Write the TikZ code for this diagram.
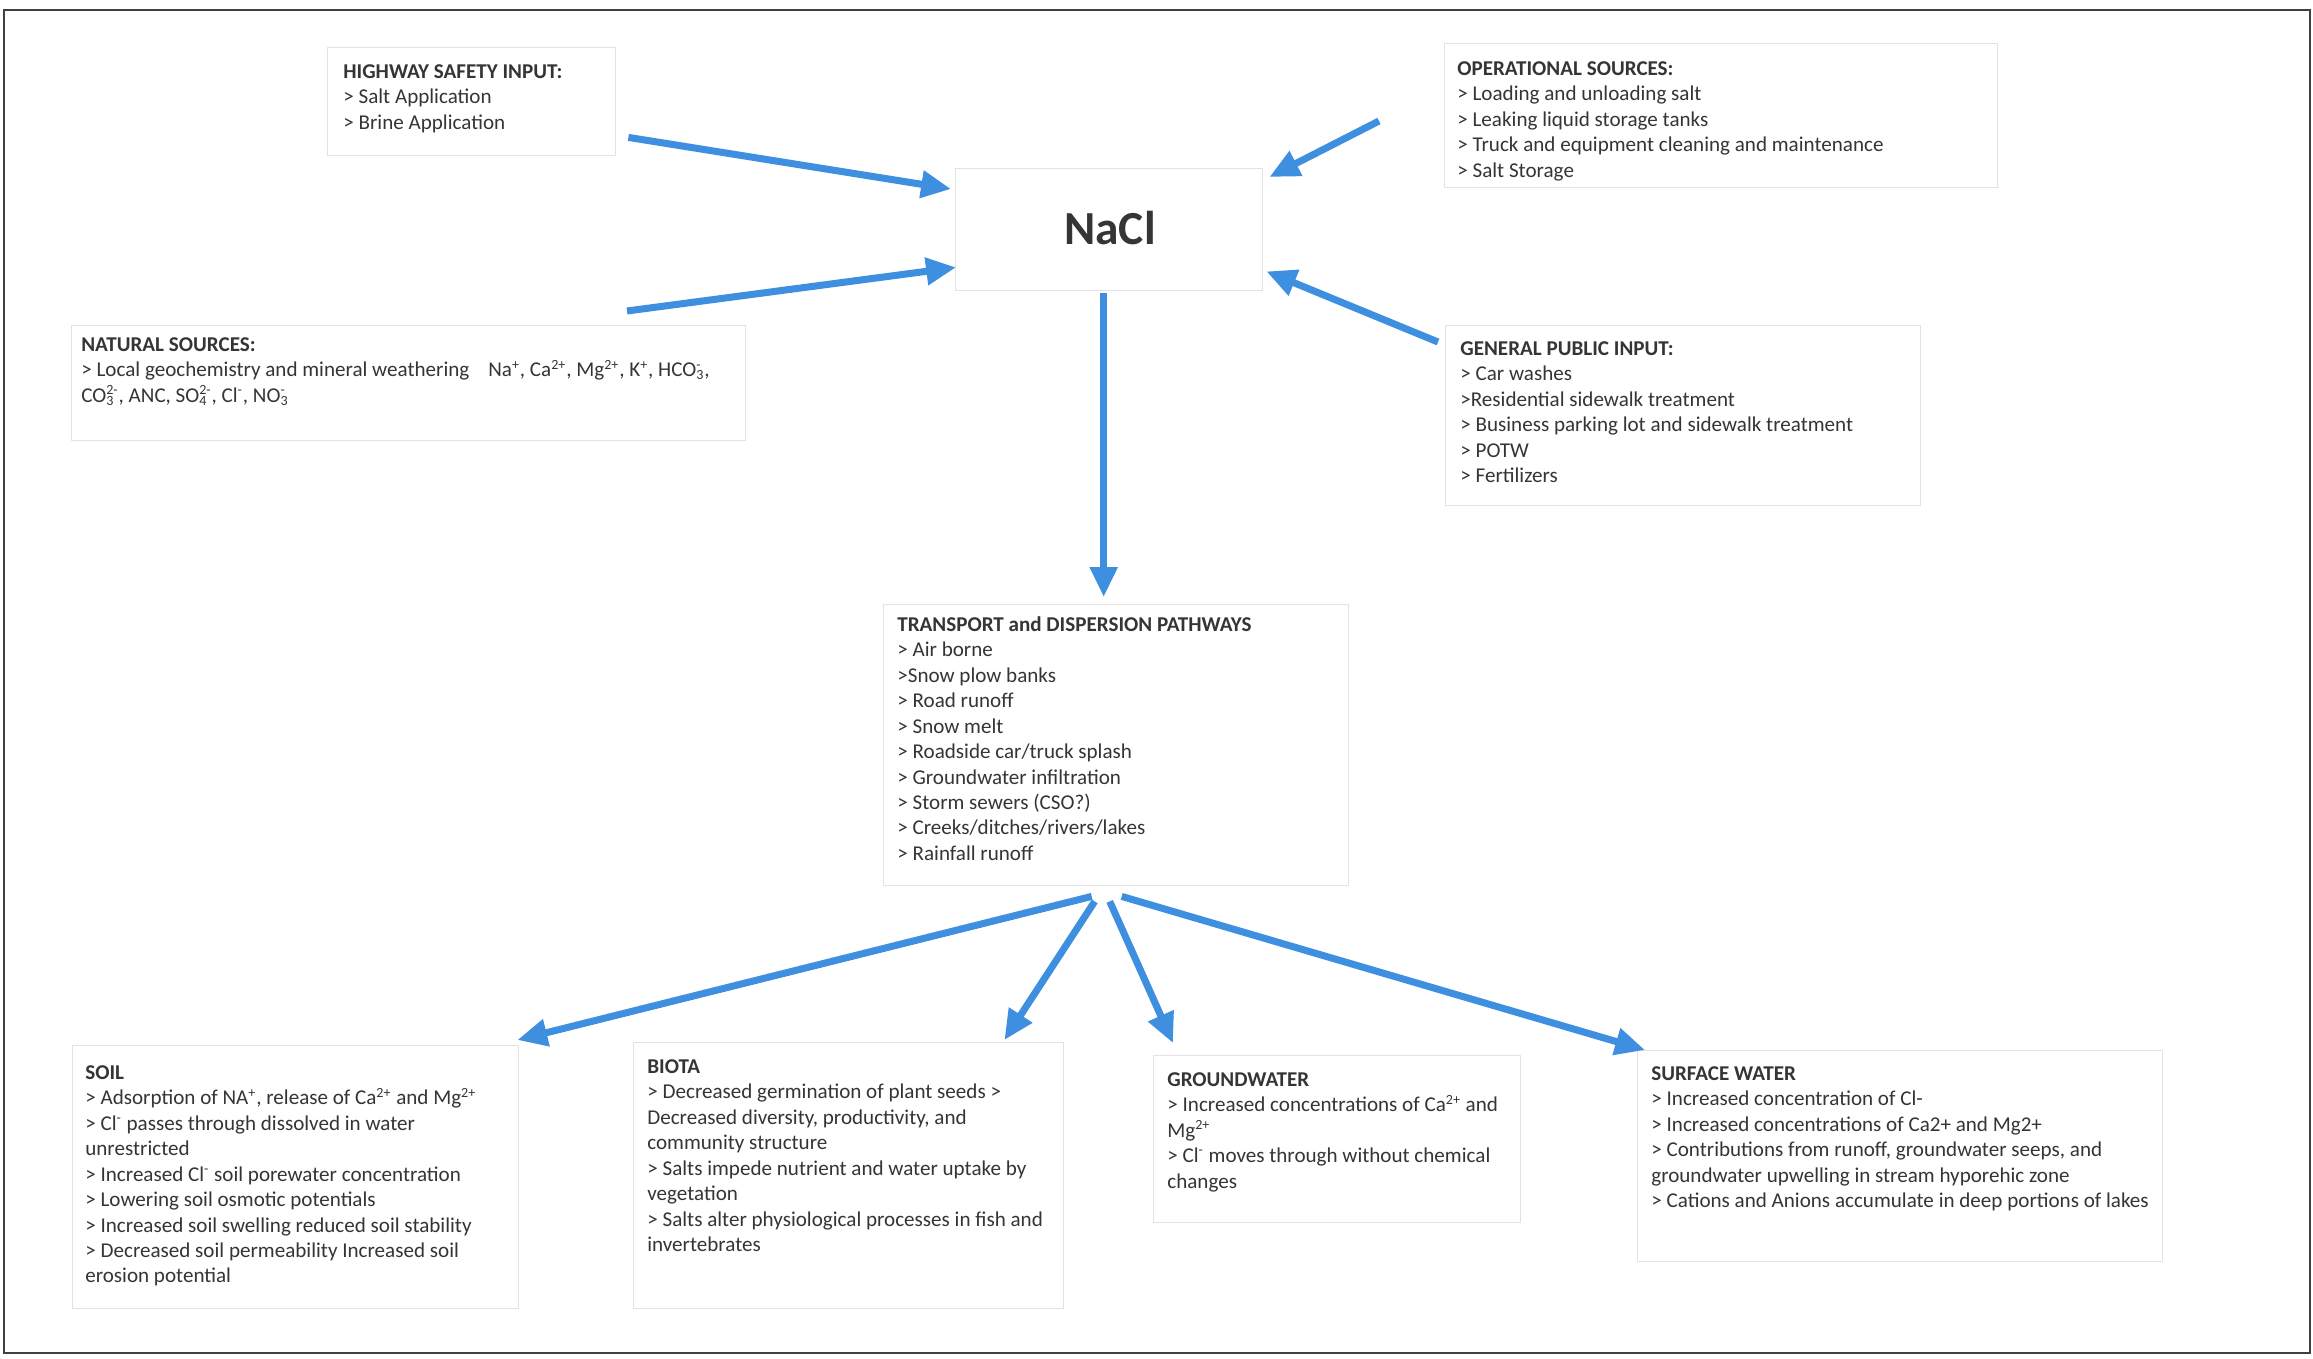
\documentclass[tikz,border=0pt]{standalone}
\usepackage{fontspec}
\setmainfont{Carlito}
\usetikzlibrary{arrows.meta,calc}
\definecolor{arrowblue}{HTML}{3F8FE0}
\definecolor{txt}{HTML}{353535}
\definecolor{boxline}{HTML}{E2E2E2}
\newsavebox\ionboxA
\newsavebox\ionboxB
\newcommand{\sups}[1]{\textsuperscript{#1}}
\newcommand{\ionsub}[2]{\sbox\ionboxA{\textsubscript{#1}}\sbox\ionboxB{\textsuperscript{#2}}%
  \ifdim\wd\ionboxA>\wd\ionboxB\rlap{\usebox\ionboxB}\usebox\ionboxA\else\rlap{\usebox\ionboxA}\usebox\ionboxB\fi}
\begin{document}
\begin{tikzpicture}[x=0.02cm,y=-0.02cm,
  box/.style={draw=boxline,line width=0.8pt,inner sep=0,anchor=north west},
  txtnode/.style={anchor=north west,inner sep=0,align=left,text=txt,
    font=\fontsize{12}{14.5}\selectfont},
  flow/.style={draw=arrowblue,line width=4pt,-{Triangle[length=17pt,width=15pt]}}]
\useasboundingbox (0,0) rectangle (2313,1359);
\fill[white] (0,0) rectangle (2313,1359);
\draw[line width=1.6pt,draw=black!75] (4,10) rectangle (2310,1353);

% boxes
\node[box,minimum width=288*0.02cm,minimum height=108*0.02cm] (hw) at (327,47) {};
\node[box,minimum width=553*0.02cm,minimum height=144*0.02cm] (op) at (1444,43) {};
\node[box,minimum width=674*0.02cm,minimum height=115*0.02cm] (nat) at (71,325) {};
\node[box,minimum width=475*0.02cm,minimum height=180*0.02cm] (gp) at (1445,325) {};
\node[box,minimum width=307*0.02cm,minimum height=122*0.02cm] (nacl) at (955,168) {};
\node[box,minimum width=465*0.02cm,minimum height=281*0.02cm] (tr) at (883,604) {};
\node[box,minimum width=446*0.02cm,minimum height=263*0.02cm] (soil) at (72,1045) {};
\node[box,minimum width=430*0.02cm,minimum height=266*0.02cm] (biota) at (633,1042) {};
\node[box,minimum width=367*0.02cm,minimum height=167*0.02cm] (gw) at (1153,1055) {};
\node[box,minimum width=525*0.02cm,minimum height=211*0.02cm] (sw) at (1637,1050) {};

% texts
\node[txtnode] (hwt) at (343,64) {\textbf{HIGHWAY SAFETY INPUT:}\\> Salt Application\\> Brine Application};
\node[txtnode] (opt) at (1457,61) {\textbf{OPERATIONAL SOURCES:}\\> Loading and unloading salt\\> Leaking liquid storage tanks\\> Truck and equipment cleaning and maintenance\\> Salt Storage};
\node[txtnode] (natt) at (81,337) {\textbf{NATURAL SOURCES:}\\> Local geochemistry and mineral weathering\hspace{0.9em}Na\sups{+}, Ca\sups{2+}, Mg\sups{2+}, K\sups{+}, HCO\ionsub{3}{-},\\CO\ionsub{3}{2-}, ANC, SO\ionsub{4}{2-}, Cl\sups{-}, NO\ionsub{3}{-}};
\node[txtnode] (gpt) at (1460,341) {\textbf{GENERAL PUBLIC INPUT:}\\> Car washes\\>Residential sidewalk treatment\\> Business parking lot and sidewalk treatment\\> POTW\\> Fertilizers};
\node[text=txt,font=\fontsize{27}{32}\selectfont\bfseries,inner sep=0] (naclt) at (1110,228) {NaCl};
\node[txtnode] (trt) at (897,616) {\textbf{TRANSPORT and DISPERSION PATHWAYS}\\> Air borne\\>Snow plow banks\\> Road runoff\\> Snow melt\\> Roadside car/truck splash\\> Groundwater infiltration\\> Storm sewers (CSO?)\\> Creeks/ditches/rivers/lakes\\> Rainfall runoff};
\node[txtnode] (soilt) at (85,1065) {\textbf{SOIL}\\> Adsorption of NA\sups{+}, release of Ca\sups{2+} and Mg\sups{2+}\\> Cl\sups{-} passes through dissolved in water\\unrestricted\\> Increased Cl\sups{-} soil porewater concentration\\> Lowering soil osmotic potentials\\> Increased soil swelling reduced soil stability\\> Decreased soil permeability Increased soil\\erosion potential};
\node[txtnode] (biotat) at (647,1059) {\textbf{BIOTA}\\> Decreased germination of plant seeds >\\Decreased diversity, productivity, and\\community structure\\> Salts impede nutrient and water uptake by\\vegetation\\> Salts alter physiological processes in fish and\\invertebrates};
\node[txtnode] (gwt) at (1167,1072) {\textbf{GROUNDWATER}\\> Increased concentrations of Ca\sups{2+} and\\Mg\sups{2+}\\> Cl\sups{-} moves through without chemical\\changes};
\node[txtnode] (swt) at (1651,1066) {\textbf{SURFACE WATER}\\> Increased concentration of Cl-\\> Increased concentrations of Ca2+ and Mg2+\\> Contributions from runoff, groundwater seeps, and\\groundwater upwelling in stream hyporehic zone\\> Cations and Anions accumulate in deep portions of lakes};

% arrows
\draw[flow] ($(hw.south east)+(12,-19)$) -- ($(nacl.north west)+(-4,21)$);
\draw[flow] ($(nat.north west)+(556,-14)$) -- ($(nacl.south west)+(1,-24)$);
\draw[flow] ($(op.north west)+(-65,78)$) -- ($(nacl.north east)+(6,9)$);
\draw[flow] ($(gp.north west)+(-7,17)$) -- ($(nacl.south east)+(3,-20)$);
\draw[flow] ($(nacl.south)+(-5.5,2)$) -- ($(tr.north)+(-12.5,-7)$);
\draw[flow] ($(tr.south)+(-24.5,10)$) -- ($(soil.north east)+(-2,-5)$);
\draw[flow] ($(tr.south)+(-21.5,15)$) -- ($(biota.north east)+(-60,-2)$);
\draw[flow] ($(tr.south)+(-6.5,15)$) -- ($(gw.north west)+(20,-12)$);
\draw[flow] ($(tr.south)+(5.5,10)$) -- ($(sw.north west)+(8,0)$);
\end{tikzpicture}
\end{document}
